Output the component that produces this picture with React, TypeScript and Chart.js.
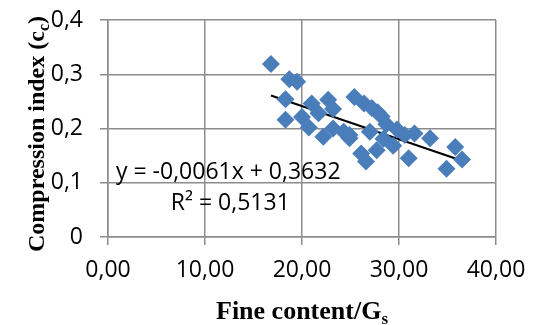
import React, { useEffect, useRef } from "react";
import { Chart, registerables } from "chart.js";

Chart.register(...registerables);

const fineContent: number[] = [
  16.8, 18.7, 19.5, 18.3, 18.3, 20.0, 20.7, 21.0, 21.7, 22.7, 23.2, 22.2, 23.2, 24.3,
  24.9, 25.4, 26.4, 27.2, 27.8, 28.2, 27.0, 28.7, 26.1, 26.6, 27.7, 28.4, 29.4, 29.8,
  30.6, 31.6, 31.0, 33.2, 35.8, 36.5, 34.9, 24.9,
];
const compressionIndex: number[] = [
  0.319, 0.291, 0.286, 0.254, 0.216, 0.221, 0.202, 0.246, 0.228, 0.253, 0.236, 0.185, 0.200, 0.194,
  0.182, 0.258, 0.246, 0.238, 0.230, 0.222, 0.194, 0.208, 0.154, 0.139, 0.160, 0.181, 0.168, 0.198,
  0.188, 0.191, 0.145, 0.182, 0.166, 0.143, 0.126, 0.188,
];
const trendSlope = -0.0061;
const trendIntercept = 0.3632;
const equationLabel = "y = -0,0061x + 0,3632";
const r2Label = "R² = 0,5131";
const xTicks: number[] = [0, 10, 20, 30, 40];
const yTicks: number[] = [0, 0.1, 0.2, 0.3, 0.4];

const sansFont = "'Open Sans', 'Noto Sans', sans-serif";
const serifFont = "'Liberation Serif', 'DejaVu Serif', serif";

export default function App() {
  const ref = useRef<HTMLCanvasElement | null>(null);

  useEffect(() => {
    if (!ref.current) return;
    const xmin = Math.min(...fineContent);
    const xmax = Math.max(...fineContent);
    const trend = [
      { x: xmin, y: trendSlope * xmin + trendIntercept },
      { x: xmax, y: trendSlope * xmax + trendIntercept },
    ];
    const points = fineContent.map((x, i) => ({ x, y: compressionIndex[i] }));

    const labelsPlugin = {
      id: "labels",
      afterDraw(chart: any) {
        const ctx = chart.ctx;
        const xs = chart.scales.x;
        const ys = chart.scales.y;
        ctx.save();
        ctx.fillStyle = "#000";
        // trendline label
        ctx.font = `23px ${sansFont}`;
        ctx.textAlign = "center";
        ctx.textBaseline = "middle";
        const cx = xs.getPixelForValue(12.4);
        ctx.fillText(equationLabel, cx, ys.getPixelForValue(0.119));
        ctx.fillText(r2Label, cx + 2, ys.getPixelForValue(0.062));

        // x-axis title with subscript
        const xt = "Fine content/G";
        ctx.font = `bold 26px ${serifFont}`;
        const w1 = ctx.measureText(xt).width;
        ctx.font = `bold 17px ${serifFont}`;
        const w2 = ctx.measureText("s").width;
        const xc = (chart.chartArea.left + chart.chartArea.right) / 2;
        const xStart = xc - (w1 + w2) / 2;
        ctx.textAlign = "left";
        ctx.textBaseline = "alphabetic";
        ctx.font = `bold 26px ${serifFont}`;
        ctx.fillText(xt, xStart, 319);
        ctx.font = `bold 17px ${serifFont}`;
        ctx.fillText("s", xStart + w1, 324);

        // y-axis title rotated with subscript
        const yt1 = "Compression index (c";
        const yt2 = "c";
        const yt3 = ")";
        ctx.font = `bold 24px ${serifFont}`;
        const a = ctx.measureText(yt1).width;
        const c = ctx.measureText(yt3).width;
        ctx.font = `bold 16px ${serifFont}`;
        const b = ctx.measureText(yt2).width;
        const total = a + b + c;
        ctx.translate(44, 134);
        ctx.rotate(-Math.PI / 2);
        const s = -total / 2;
        ctx.font = `bold 24px ${serifFont}`;
        ctx.fillText(yt1, s, 0);
        ctx.font = `bold 16px ${serifFont}`;
        ctx.fillText(yt2, s + a, 5);
        ctx.font = `bold 24px ${serifFont}`;
        ctx.fillText(yt3, s + a + b, 0);
        ctx.restore();
      },
    };

    const chart = new Chart(ref.current, {
      type: "scatter",
      data: {
        datasets: [
          {
            label: "data",
            data: points,
            pointStyle: "rectRot",
            pointRadius: 9,
            pointBackgroundColor: "#4a7ebb",
            pointBorderColor: "#4a7ebb",
            pointBorderWidth: 0,
            showLine: false,
          },
          {
            label: "trend",
            data: trend,
            showLine: true,
            borderColor: "#000",
            borderWidth: 2,
            pointRadius: 0,
            fill: false,
          },
        ],
      },
      plugins: [labelsPlugin],
      options: {
        animation: false,
        responsive: false,
        layout: { padding: { top: 20, right: 42, left: 0, bottom: 0 } },
        plugins: { legend: { display: false }, tooltip: { enabled: false } },
        scales: {
          x: {
            type: "linear",
            min: 0,
            max: 40,
            afterBuildTicks: (scale: any) => {
              scale.ticks = xTicks.map((v) => ({ value: v }));
            },
            afterFit: (scale: any) => {
              scale.height = 88;
              scale.paddingLeft = 0;
              scale.paddingRight = 0;
            },
            ticks: {
              color: "#000",
              font: { family: sansFont, size: 23 },
              padding: 12,
              maxRotation: 0,
              callback: (v: any) => Number(v).toFixed(2).replace(".", ","),
            },
            grid: { color: "#8c8c8c", lineWidth: 1.5, tickLength: 8 },
            border: { color: "#8c8c8c", width: 1.5 },
          },
          y: {
            type: "linear",
            min: 0,
            max: 0.4,
            afterBuildTicks: (scale: any) => {
              scale.ticks = yTicks.map((v) => ({ value: v }));
            },
            afterFit: (scale: any) => {
              scale.width = 108;
              scale.paddingTop = 0;
              scale.paddingBottom = 0;
            },
            ticks: {
              color: "#000",
              font: { family: sansFont, size: 23 },
              padding: 17,
              callback: (v: any) => (Number(v) === 0 ? "0" : Number(v).toFixed(1).replace(".", ",")),
            },
            grid: { color: "#8c8c8c", lineWidth: 1.5, tickLength: 8 },
            border: { color: "#8c8c8c", width: 1.5 },
          },
        },
      },
    });
    return () => chart.destroy();
  }, []);

  return (
    <div style={{ position: "absolute", left: 0, top: 0, width: 538, height: 325, background: "#fff" }}>
      <canvas ref={ref} width={538} height={325} style={{ width: 538, height: 325 }} />
    </div>
  );
}
